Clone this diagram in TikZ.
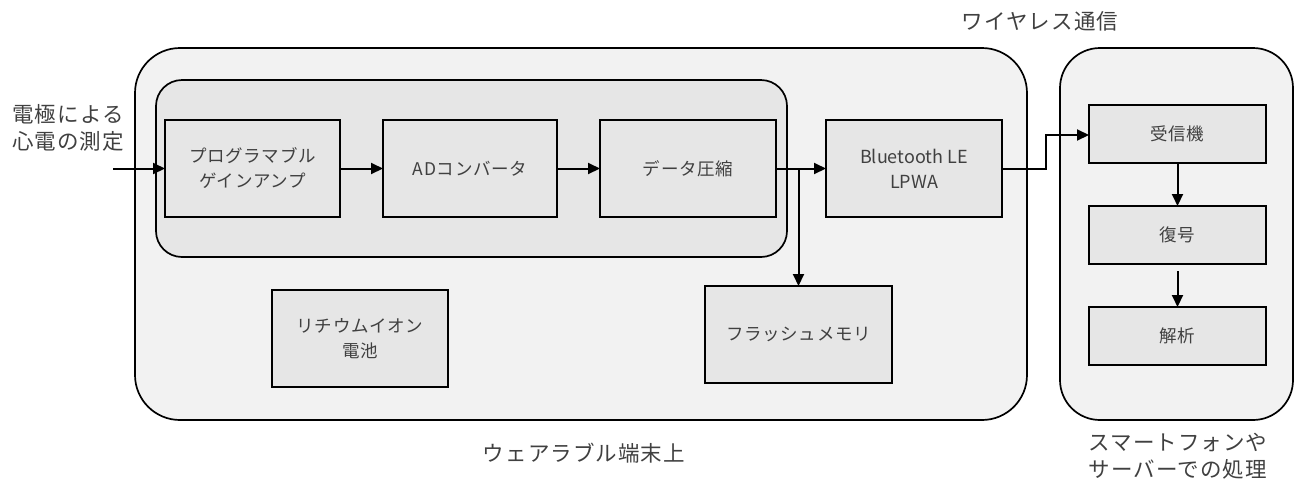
\documentclass[tikz,border=0pt]{standalone}
\usepackage{fontspec}
\setmainfont{Noto Sans CJK JP}
\usetikzlibrary{arrows.meta,calc}
\definecolor{outerfill}{HTML}{F2F2F2}
\definecolor{boxfill}{HTML}{E6E6E6}
\definecolor{txt}{HTML}{404040}
\begin{document}
\begin{tikzpicture}[x=1pt,y=-1pt,
  every node/.style={inner sep=0pt,outer sep=0pt},
  group/.style={draw=black,line width=1.7pt,rounded corners=#1},
  blk/.style={draw=black,line width=1.7pt,fill=boxfill,text=txt,align=center,
     font=\fontsize{17.5}{25}\selectfont\addfontfeatures{LetterSpace=4}},
  lbl/.style={text=txt,align=center,font=\fontsize{21.5}{27}\selectfont\addfontfeatures{LetterSpace=5}},
  conn/.style={line width=2pt,-{Triangle[length=12pt,width=11pt]}},
  wire/.style={line width=2pt}]
\useasboundingbox (0,0) rectangle (1294,483);
% groups
\node[group=45pt,fill=outerfill,minimum width=892pt,minimum height=372pt] (wear) at (581,234) {};
\node[group=26pt,fill=boxfill,minimum width=631pt,minimum height=177pt] (proc) at (471.5,168.5) {};
\node[group=40pt,fill=outerfill,minimum width=233pt,minimum height=372pt] (phone) at (1176.5,234) {};
% blocks
\node[blk,minimum width=175pt,minimum height=97pt] (amp) at (252.5,168.5) {プログラマブル\\ゲインアンプ};
\node[blk,minimum width=174pt,minimum height=97pt] (adc) at (470,168.5) {ADコンバータ};
\node[blk,minimum width=176pt,minimum height=97pt] (cmp) at (688,168.5) {データ圧縮};
\node[blk,minimum width=176pt,minimum height=97pt,font=\fontsize{18}{25}\selectfont] (ble) at (914,168.5) {Bluetooth LE\\LPWA};
\node[blk,minimum width=187pt,minimum height=97pt] (flash) at (798.5,334.5) {フラッシュメモリ};
\node[blk,minimum width=176pt,minimum height=97pt] (li) at (360,338.5) {リチウムイオン\\電池};
\node[blk,minimum width=177pt,minimum height=58pt] (rx) at (1177.5,134) {受信機};
\node[blk,minimum width=177pt,minimum height=58pt] (dec) at (1177.5,235) {復号};
\node[blk,minimum width=177pt,minimum height=58pt] (ana) at (1177.5,336) {解析};
% labels
\node[lbl] (inlbl) at (68,128) {電極による\\心電の測定};
\node[lbl] (wl) at (1040,21) {ワイヤレス通信};
\node[lbl] (wearlbl) at (584,453) {ウェアラブル端末上};
\node[lbl] (phonelbl) at (1178,456) {スマートフォンや\\サーバーでの処理};
% connectors
\coordinate (src) at (113,168.5);
\coordinate (j) at (798.5,168.5);
\coordinate (w1) at (1046,0);
\draw[conn] (src) -- (amp.west);
\draw[conn] (amp.east) -- (adc.west);
\draw[conn] (adc.east) -- (cmp.west);
\draw[conn] (cmp.east) -- (ble.west);
\draw[conn] (j) -- (flash.north);
\draw[conn] (ble.east) -- (w1 |- ble.east) -- ($(w1 |- rx.west)+(0,1)$) -- ($(rx.west)+(0,1)$);
\draw[conn] (rx.south) -- (dec.north);
\draw[conn] ($(dec.south)+(0,7)$) -- (ana.north);
\end{tikzpicture}
\end{document}
